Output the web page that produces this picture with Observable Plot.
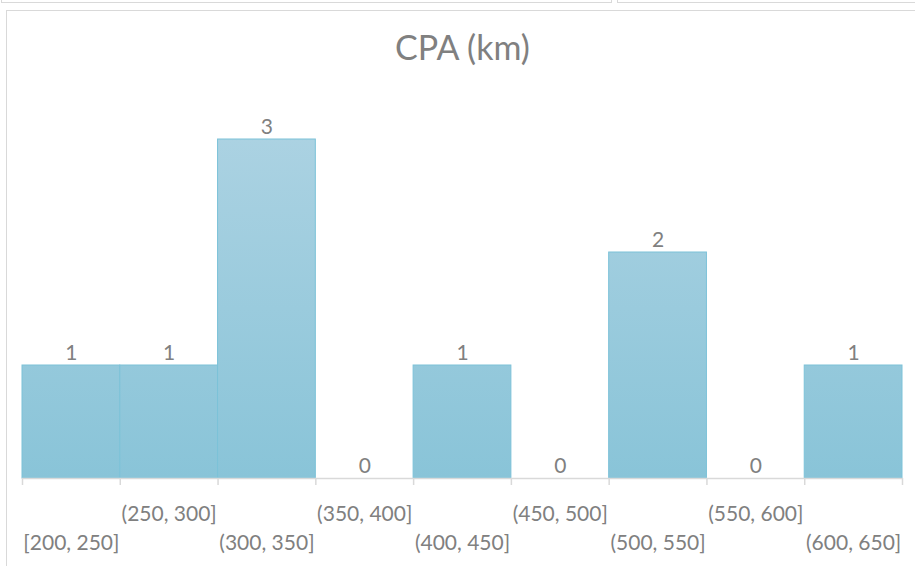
<!DOCTYPE html>
<html>
<head>
<meta charset="utf-8">
<script src="https://cdn.jsdelivr.net/npm/d3@7"></script>
<script src="https://cdn.jsdelivr.net/npm/@observablehq/plot@0.6"></script>
<style>
  html, body { margin: 0; padding: 0; background: #fff; }
  body { width: 915px; height: 566px; position: relative; overflow: hidden; font-family: Lato, sans-serif; }
  .panel { position: absolute; border: 1.5px solid #d9d9d9; box-sizing: border-box; }
  #title { position: absolute; left: 0; width: 925px; top: 30px; text-align: center; font-size: 34px; line-height: 34px; color: #808080; font-family: Lato, sans-serif; }
  #chart { position: absolute; left: 0; top: 0; }
</style>
</head>
<body>
<div class="panel" style="left:1px; top:-20px; width:611px; height:23px;"></div>
<div class="panel" style="left:617px; top:-20px; width:320px; height:23px;"></div>
<div class="panel" style="left:6px; top:10px; width:940px; height:600px;"></div>
<div id="chart"></div>
<div id="title">CPA (km)</div>
<script>
const binStart = [200, 250, 300, 350, 400, 450, 500, 550, 600];
const binEnd   = [250, 300, 350, 400, 450, 500, 550, 600, 650];
const binLabels = ["[200, 250]", "(250, 300]", "(300, 350]", "(350, 400]", "(400, 450]", "(450, 500]", "(500, 550]", "(550, 600]", "(600, 650]"];
const counts = [1, 1, 3, 0, 1, 0, 2, 0, 1];
const edges = [200, 250, 300, 350, 400, 450, 500, 550, 600, 650];

const data = binStart.map((s, i) => ({x1: s, x2: binEnd[i], mid: (s + binEnd[i]) / 2, label: binLabels[i], count: counts[i], i}));

const plot = Plot.plot({
  width: 915,
  height: 566,
  marginBottom: 88,
  marginTop: 100,
  marginLeft: 22,
  marginRight: 13,
  x: {domain: [200, 650], range: [22, 902], axis: null},
  y: {domain: [0, 3], range: [478, 139], axis: null},
  style: {background: "transparent", fontFamily: "Lato, sans-serif"},
  marks: [
    Plot.rectY(data.filter(d => d.count > 0), {x1: "x1", x2: "x2", y: "count", fill: "url(#barGrad)", stroke: "#7cc2d8", strokeWidth: 1}),
    Plot.axisX(edges, {ticks: edges, tickSize: 7, tickFormat: () => "", stroke: "#d9d9d9", strokeWidth: 1.5, anchor: "bottom"}),
    Plot.ruleY([0], {stroke: "#d9d9d9", strokeWidth: 1.5}),
    Plot.text(data, {x: "mid", y: "count", text: d => String(d.count), dy: -12, fill: "#808080", fontSize: 21}),
    Plot.text(data.filter(d => d.i % 2 === 1), {x: "mid", y: () => 0, text: "label", dy: 36, fill: "#808080", fontSize: 21}),
    Plot.text(data.filter(d => d.i % 2 === 0), {x: "mid", y: () => 0, text: "label", dy: 65, fill: "#808080", fontSize: 21})
  ]
});

const svg = d3.select(plot);
const defs = svg.insert("defs", ":first-child");
const grad = defs.append("linearGradient").attr("id", "barGrad").attr("gradientUnits", "userSpaceOnUse")
  .attr("x1", 0).attr("x2", 0).attr("y1", 139).attr("y2", 478);
grad.append("stop").attr("offset", "0%").attr("stop-color", "#abd2e2");
grad.append("stop").attr("offset", "100%").attr("stop-color", "#89c4d8");

document.getElementById("chart").appendChild(plot);
</script>
</body>
</html>
